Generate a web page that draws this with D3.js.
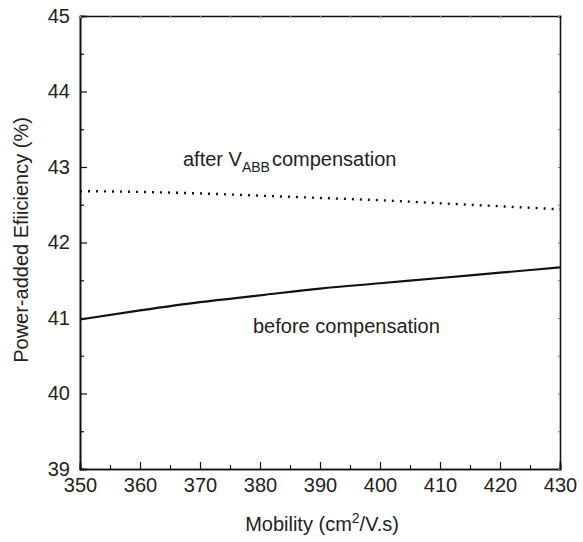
<!DOCTYPE html>
<html>
<head>
<meta charset="utf-8">
<script src="https://cdn.jsdelivr.net/npm/d3@7"></script>
<style>
  html, body { margin: 0; padding: 0; background: #fff; }
  text { font-family: "Liberation Sans", Arial, Helvetica, sans-serif; fill: #222; }
</style>
</head>
<body>
<svg id="chart" width="583" height="542"></svg>
<script>
// Mobility sweep (cm²/V.s)
const mobility = [350, 360, 370, 380, 390, 400, 410, 420, 430];
// Power-added efficiency (%) after V_ABB compensation
const paeAfter = [42.68, 42.67, 42.65, 42.62, 42.59, 42.56, 42.52, 42.48, 42.44];
// Power-added efficiency (%) before compensation
const paeBefore = [40.98, 41.10, 41.21, 41.30, 41.39, 41.46, 41.53, 41.60, 41.67];

const xTicks = [350, 360, 370, 380, 390, 400, 410, 420, 430];
const yTicks = [39, 40, 41, 42, 43, 44, 45];

const svg = d3.select("#chart");
const m = { left: 80, right: 23, top: 16, bottom: 73 };
const W = 583, H = 542;
const x = d3.scaleLinear().domain([350, 430]).range([m.left, W - m.right]);
const y = d3.scaleLinear().domain([39, 45]).range([H - m.bottom, m.top]);

const xMinor = d3.range(355, 430, 10);
const yMinor = d3.range(39.5, 45, 1);

const fs = 20;

// bottom axis: inward ticks
const gB = svg.append("g").attr("transform", `translate(0,${y(39)})`)
  .call(d3.axisBottom(x).tickValues(xTicks).tickSize(-7).tickPadding(9).tickFormat(d3.format("d")));
const gBm = svg.append("g").attr("transform", `translate(0,${y(39)})`)
  .call(d3.axisBottom(x).tickValues(xMinor).tickSize(-4).tickFormat(""));
// left axis
const gL = svg.append("g").attr("transform", `translate(${x(350)},0)`)
  .call(d3.axisLeft(y).tickValues(yTicks).tickSize(-7).tickPadding(10).tickFormat(d3.format("d")));
const gLm = svg.append("g").attr("transform", `translate(${x(350)},0)`)
  .call(d3.axisLeft(y).tickValues(yMinor).tickSize(-4).tickFormat(""));
// top and right axes: small inward ticks, no labels
const gT = svg.append("g").attr("transform", `translate(0,${y(45)})`)
  .call(d3.axisTop(x).tickValues(xTicks.concat(xMinor)).tickSize(-2).tickFormat(""));
const gR = svg.append("g").attr("transform", `translate(${x(430)},0)`)
  .call(d3.axisRight(y).tickValues(yTicks.concat(yMinor)).tickSize(-2).tickFormat(""));

[gB, gBm, gL, gLm, gT, gR].forEach(g => {
  g.select(".domain").attr("stroke", "#111").attr("stroke-width", 1.6);
  g.selectAll(".tick line").attr("stroke", "#111").attr("stroke-width", 1.2);
  g.selectAll(".tick text").style("font-size", fs + "px").attr("fill", "#222")
    .style("font-family", '"Liberation Sans", Arial, sans-serif');
});
gT.selectAll(".tick line").attr("stroke", "#999");
gR.selectAll(".tick line").attr("stroke", "#777");

// curves
const line = d3.line().x((d, i) => x(mobility[i])).y(d => y(d)).curve(d3.curveMonotoneX);

svg.append("path").datum(paeAfter).attr("d", line)
  .attr("fill", "none").attr("stroke", "#111").attr("stroke-width", 2.4)
  .attr("stroke-dasharray", "2,6");

svg.append("path").datum(paeBefore).attr("d", line)
  .attr("fill", "none").attr("stroke", "#111").attr("stroke-width", 2.2);

// annotations
const ann = svg.append("text").attr("x", 183).attr("y", 166).style("font-size", fs + "px");
ann.append("tspan").text("after V");
ann.append("tspan").attr("dy", 6).style("font-size", "14px").text("ABB");
ann.append("tspan").attr("dy", -6).attr("dx", 2).text("compensation");

svg.append("text").attr("x", 253).attr("y", 333).style("font-size", fs + "px")
  .text("before compensation");

// axis titles
const xt = svg.append("text").attr("x", 322).attr("y", 531).attr("text-anchor", "middle")
  .style("font-size", fs + "px");
xt.append("tspan").text("Mobility (cm");
xt.append("tspan").attr("dy", -8).style("font-size", "14px").text("2");
xt.append("tspan").attr("dy", 8).text("/V.s)");

svg.append("text").attr("transform", "translate(28,240) rotate(-90)")
  .attr("text-anchor", "middle").style("font-size", fs + "px")
  .text("Power-added Efiiciency (%)");
</script>
</body>
</html>
